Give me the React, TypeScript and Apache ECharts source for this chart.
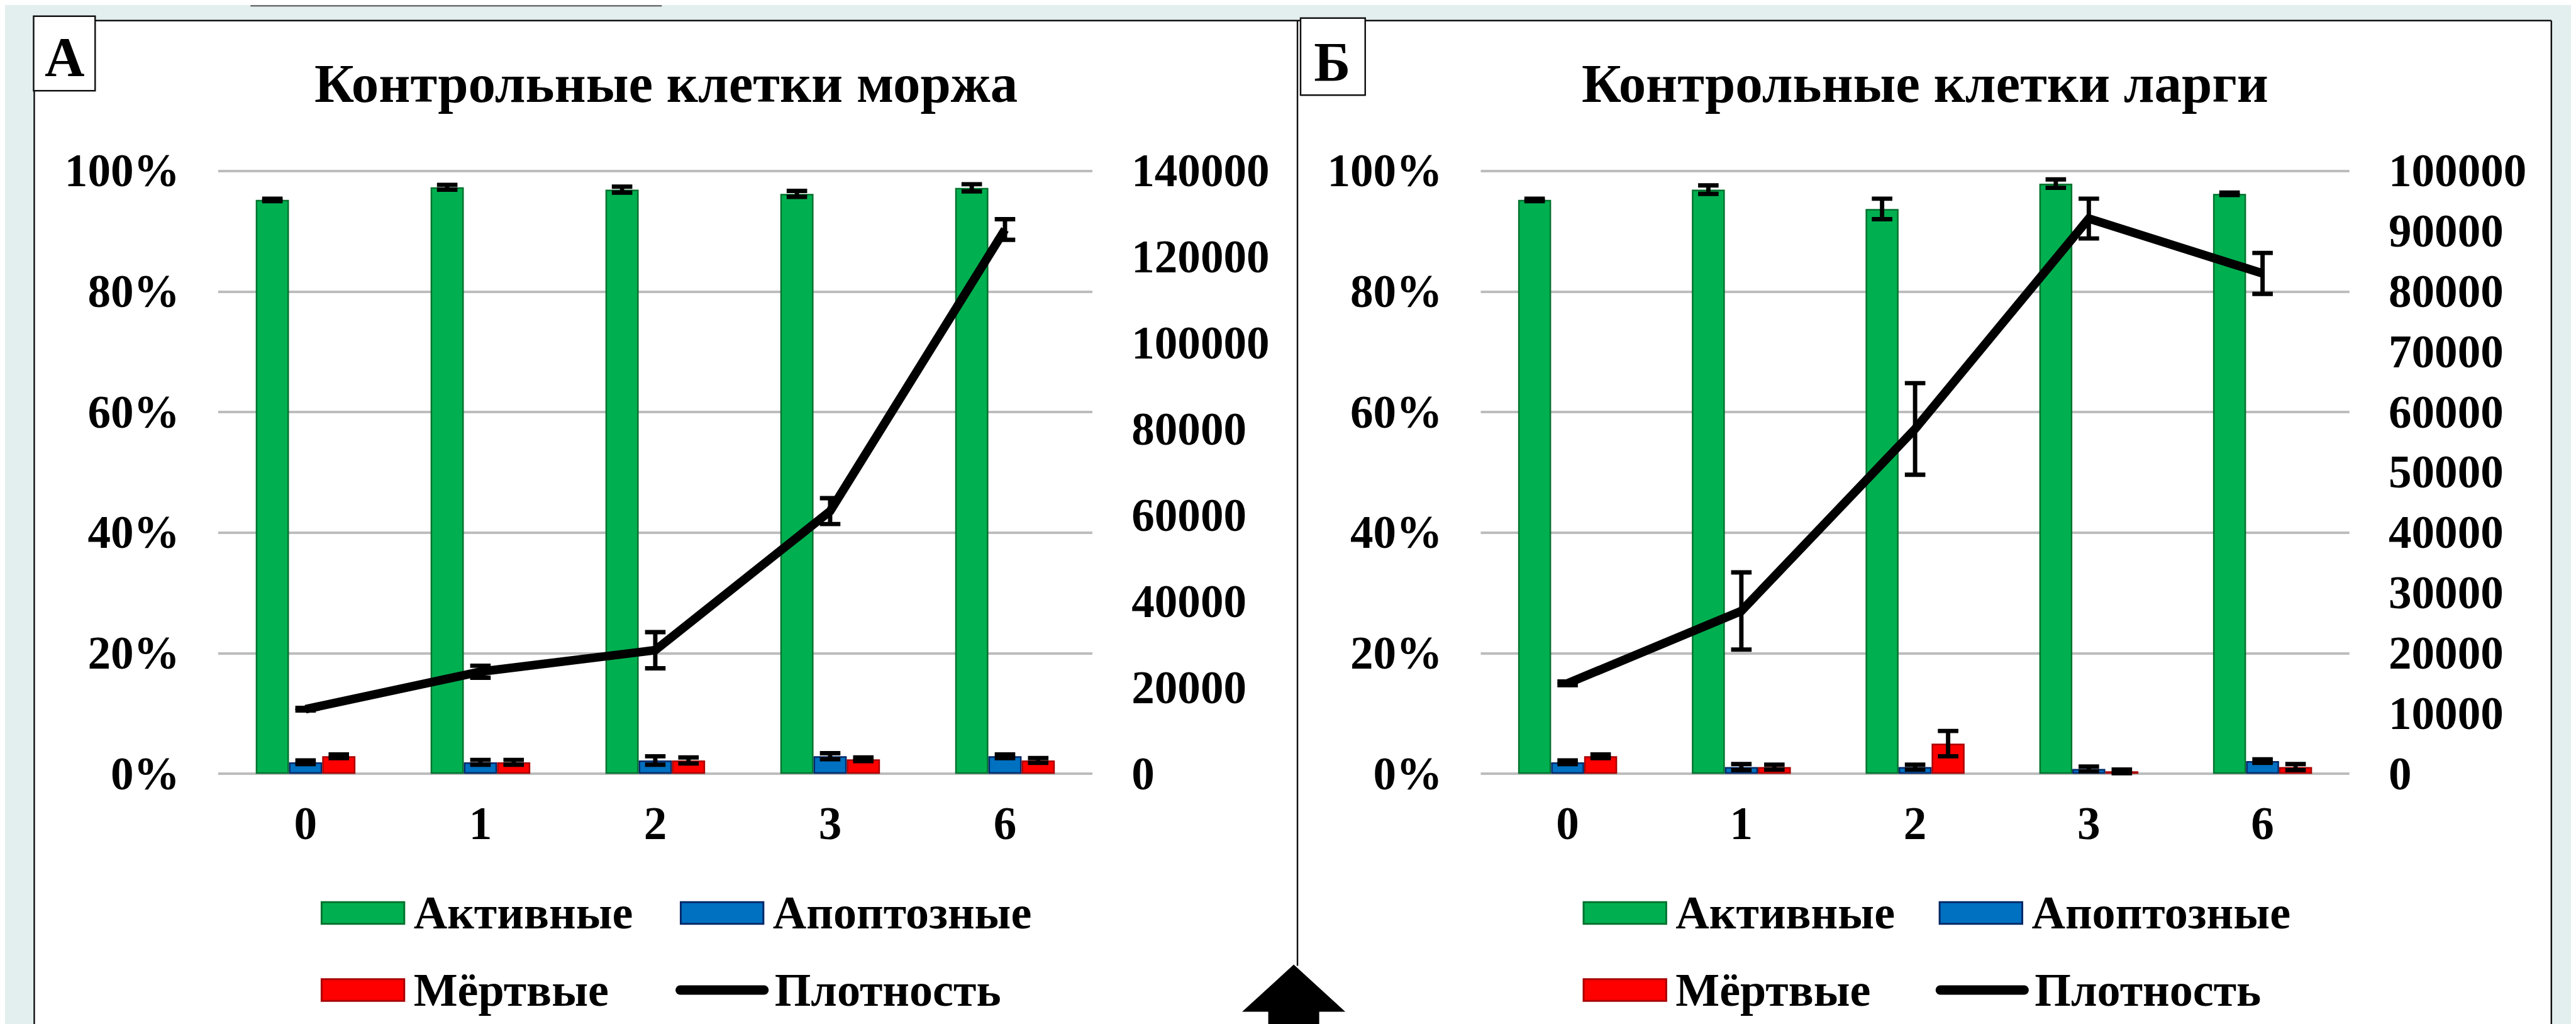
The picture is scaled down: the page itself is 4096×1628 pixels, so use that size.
import React, { useEffect, useRef } from 'react';
import * as echarts from 'echarts';

// ---------- scale (reference 4143x1647 -> window 4096x1628) ----------
const S = 0.988;
const FONT = "'Liberation Serif', 'Times New Roman', Times, serif";

// ---------- texts ----------
const categories = ['0', '1', '2', '3', '6'];
const seriesNames = ['Активные', 'Апоптозные', 'Мёртвые', 'Плотность'];
const panelTitles = ['Контрольные клетки моржа', 'Контрольные клетки ларги'];
const panelLetters = ['А', 'Б'];

// ---------- axes (tick labels come from these) ----------
const percentAxis = { min: 0, max: 100, interval: 20 };
const densityAxisA = { min: 0, max: 140000, interval: 20000 };
const densityAxisB = { min: 0, max: 100000, interval: 10000 };

// ---------- panel А: walrus ----------
const activeA = [95.2, 97.3, 96.9, 96.2, 97.2];
const activeErrA = [0.2, 0.4, 0.5, 0.5, 0.6];
const apoptA = [1.9, 1.9, 2.2, 2.9, 2.9];
const apoptErrA = [0.3, 0.4, 0.7, 0.5, 0.3];
const deadA = [2.9, 1.9, 2.2, 2.4, 2.2];
const deadErrA = [0.3, 0.4, 0.5, 0.3, 0.4];
const densityA = [15000, 23700, 28700, 61000, 126400];
const densityErrA = [300, 1400, 4200, 3000, 2400];

// ---------- panel Б: largha seal ----------
const activeB = [95.2, 96.9, 93.7, 97.9, 96.2];
const activeErrB = [0.2, 0.7, 1.7, 0.7, 0.2];
const apoptB = [1.9, 1.1, 1.1, 0.8, 2.1];
const apoptErrB = [0.3, 0.5, 0.4, 0.4, 0.3];
const deadB = [2.9, 1.1, 5.0, 0.4, 1.1];
const deadErrB = [0.3, 0.4, 2.1, 0.3, 0.5];
const densityB = [15000, 27000, 57200, 92100, 83000];
const densityErrB = [300, 6400, 7600, 3300, 3400];

// ---------- styling / layout (reference px) ----------
const GRIDS = [
  { left: 343, right: 1750 },
  { left: 2375, right: 3773 },
];
const GRID_TOP = 267;
const GRID_BOTTOM = 1237;
const BAR_RATIO = 0.19;
const CAP_W = 33;
const CAP_T = 7;
const STEM_W = 7;
const LINE_W = 14;

const barStyles = [
  { color: '#00b050', borderColor: '#00722e', borderWidth: 2.5 * S },
  { color: '#0070c0', borderColor: '#002868', borderWidth: 2.5 * S },
  { color: '#ff0000', borderColor: '#a80000', borderWidth: 2.5 * S },
];

const LEGEND_POS = [
  [
    { x: 508, cy: 1461 },
    { x: 1086, cy: 1461 },
    { x: 508, cy: 1585 },
    { x: 1079, cy: 1585 },
  ],
  [
    { x: 2539, cy: 1461 },
    { x: 3112, cy: 1461 },
    { x: 2539, cy: 1585 },
    { x: 3107, cy: 1585 },
  ],
];
const TITLE_CX = [1064, 3090];
const TICK_FS = 74;
const LEGEND_FS = 75;
const TITLE_FS = 88;

function errRender(offsetMul: number) {
  return (params: any, api: any) => {
    const idx = api.value(0);
    const val = api.value(1);
    const err = api.value(2);
    const c = api.coord([idx, val]);
    const band = api.size([1, 0])[0];
    const x = c[0] + offsetMul * band * BAR_RATIO;
    const yTop = api.coord([idx, val + err])[1];
    const yBot = api.coord([idx, Math.max(0, val - err)])[1];
    const hw = (CAP_W * S) / 2;
    const st = { stroke: '#000', lineWidth: CAP_T * S };
    return {
      type: 'group',
      children: [
        { type: 'line', shape: { x1: x, y1: yTop, x2: x, y2: yBot }, style: { stroke: '#000', lineWidth: STEM_W * S } },
        { type: 'line', shape: { x1: x - hw, y1: yTop, x2: x + hw, y2: yTop }, style: st },
        { type: 'line', shape: { x1: x - hw, y1: yBot, x2: x + hw, y2: yBot }, style: st },
      ],
    };
  };
}

const tickLabel = {
  fontFamily: FONT,
  fontWeight: 'bold' as const,
  fontSize: TICK_FS * S,
  color: '#000',
};

function buildPanel(p: number, d: any) {
  const g = GRIDS[p];
  const grid = {
    left: g.left * S,
    top: GRID_TOP * S,
    width: (g.right - g.left) * S,
    height: (GRID_BOTTOM - GRID_TOP) * S,
    containLabel: false,
    outerBoundsMode: 'none',
  };
  const xAxis = {
    type: 'category',
    gridIndex: p,
    data: categories,
    axisLine: { show: false },
    axisTick: { show: false },
    axisLabel: { ...tickLabel, margin: 43 * S, lineHeight: TICK_FS * S },
    splitLine: { show: false },
  };
  const yPct = {
    type: 'value',
    gridIndex: p,
    position: 'left',
    min: percentAxis.min,
    max: percentAxis.max,
    interval: percentAxis.interval,
    axisLine: { show: false },
    axisTick: { show: false },
    axisLabel: { ...tickLabel, margin: 62 * S, formatter: '{value}%' },
    splitLine: { show: true, lineStyle: { color: '#bdbdbd', width: 4 * S } },
  };
  const yDen = {
    type: 'value',
    gridIndex: p,
    position: 'right',
    min: d.densAxis.min,
    max: d.densAxis.max,
    interval: d.densAxis.interval,
    axisLine: { show: false },
    axisTick: { show: false },
    axisLabel: { ...tickLabel, margin: 63 * S, formatter: (v: number) => String(v) },
    splitLine: { show: false },
  };
  const yi = 2 * p;
  const bars = [d.active, d.apopt, d.dead].map((vals: number[], k: number) => ({
    type: 'bar',
    name: seriesNames[k],
    xAxisIndex: p,
    yAxisIndex: yi,
    data: vals,
    barWidth: BAR_RATIO * 100 + '%',
    barGap: '0%',
    itemStyle: barStyles[k],
    z: 2,
  }));
  const line = {
    type: 'line',
    name: seriesNames[3],
    xAxisIndex: p,
    yAxisIndex: yi + 1,
    data: d.density,
    symbol: 'none',
    color: '#000',
    lineStyle: { color: '#000', width: LINE_W * S, cap: 'butt', join: 'miter' },
    z: 4,
  };
  const barErrs = [
    [d.active, d.activeErr],
    [d.apopt, d.apoptErr],
    [d.dead, d.deadErr],
  ].map(([vals, errs]: any, k: number) => ({
    type: 'custom',
    name: seriesNames[k] + ' ±',
    xAxisIndex: p,
    yAxisIndex: yi,
    renderItem: errRender(k - 1),
    encode: { x: 0, y: 1 },
    data: vals.map((v: number, i: number) => [i, v, errs[i]]),
    z: 3,
    silent: true,
  }));
  const lineErr = {
    type: 'custom',
    name: seriesNames[3] + ' ±',
    xAxisIndex: p,
    yAxisIndex: yi + 1,
    renderItem: errRender(0),
    encode: { x: 0, y: 1 },
    data: d.density.map((v: number, i: number) => [i, v, d.densityErr[i]]),
    z: 5,
    silent: true,
  };
  const legends = seriesNames.map((nm, k) => {
    const pos = LEGEND_POS[p][k];
    const isLine = k === 3;
    const lg: any = {
      data: [nm],
      left: pos.x * S,
      top: (pos.cy - 40) * S,
      padding: 0,
      selectedMode: false,
      itemWidth: (isLine ? 150 : 133) * S,
      itemHeight: (isLine ? 15 : 35) * S,
      textStyle: {
        fontFamily: FONT,
        fontWeight: 'bold',
        fontSize: LEGEND_FS * S,
        lineHeight: 80 * S,
        color: '#000',
        padding: [0, 0, 0, (isLine ? 4.5 : 10) * S],
      },
    };
    if (isLine) {
      lg.icon = 'path://M7.5,0 H142.5 A7.5,7.5 0 0 1 142.5,15 H7.5 A7.5,7.5 0 0 1 7.5,0 Z';
      lg.itemStyle = { color: '#000', borderWidth: 0 };
      lg.lineStyle = { width: 0 };
    } else {
      lg.icon = 'rect';
      lg.itemStyle = {
        color: barStyles[k].color,
        borderColor: barStyles[k].borderColor,
        borderWidth: 3 * S,
      };
    }
    return lg;
  });
  const title = {
    text: panelTitles[p],
    left: TITLE_CX[p] * S,
    top: 82 * S,
    textAlign: 'center',
    padding: 0,
    textStyle: {
      fontFamily: FONT,
      fontWeight: 'bold',
      fontSize: TITLE_FS * S,
      lineHeight: TITLE_FS * S,
      color: '#000',
    },
  };
  return {
    grid,
    xAxis,
    yAxes: [yPct, yDen],
    series: [...bars, line, ...barErrs, lineErr],
    legends,
    title,
  };
}

function buildGraphic() {
  const teal = '#e3efef';
  const r = (x: number, y: number, w: number, h: number, style: any) => ({
    type: 'rect',
    shape: { x: x * S, y: y * S, width: w * S, height: h * S },
    style,
    silent: true,
  });
  const ln = (x1: number, y1: number, x2: number, y2: number, w: number, c = '#111') => ({
    type: 'line',
    shape: { x1: x1 * S, y1: y1 * S, x2: x2 * S, y2: y2 * S },
    style: { stroke: c, lineWidth: w * S },
    silent: true,
  });
  const letter = (t: string, cx: number, cy: number) => ({
    type: 'text',
    x: cx * S,
    y: cy * S,
    style: {
      text: t,
      fontFamily: FONT,
      fontWeight: 'bold',
      fontSize: 89 * S,
      fill: '#000',
      align: 'center',
      verticalAlign: 'middle',
    },
    silent: true,
  });
  const arrowPts = [
    [2074, 1544],
    [2157, 1620],
    [2115, 1620],
    [2115, 1660],
    [2033, 1660],
    [2033, 1620],
    [1991, 1620],
  ].map(([x, y]) => [x * S, y * S]);
  return [
    r(0, 0, 4143, 25, { fill: teal }),
    r(0, 0, 47, 1660, { fill: teal }),
    r(4098, 0, 60, 1660, { fill: teal }),
    ln(395, 1, 1057, 1, 3, '#6e6e6e'),
    ln(47, 25, 4098, 25, 2.5),
    ln(47, 25, 47, 1660, 2.5),
    ln(4098, 25, 4098, 1660, 2.5),
    ln(2080, 25, 2080, 1546, 2.5),
    { type: 'polygon', shape: { points: arrowPts }, style: { fill: '#000' }, silent: true },
    r(46, 18, 99, 120, { fill: '#fff', stroke: '#111', lineWidth: 2.5 * S }),
    r(2085, 21, 104, 124, { fill: '#fff', stroke: '#111', lineWidth: 2.5 * S }),
    letter(panelLetters[0], 96, 83),
    letter(panelLetters[1], 2136, 92),
  ];
}

export default function App() {
  const ref = useRef<HTMLDivElement>(null);
  useEffect(() => {
    if (!ref.current) return;
    const chart = echarts.init(ref.current, undefined, { renderer: 'svg' });
    const pA = buildPanel(0, {
      active: activeA, activeErr: activeErrA, apopt: apoptA, apoptErr: apoptErrA,
      dead: deadA, deadErr: deadErrA, density: densityA, densityErr: densityErrA, densAxis: densityAxisA,
    });
    const pB = buildPanel(1, {
      active: activeB, activeErr: activeErrB, apopt: apoptB, apoptErr: apoptErrB,
      dead: deadB, deadErr: deadErrB, density: densityB, densityErr: densityErrB, densAxis: densityAxisB,
    });
    chart.setOption({
      animation: false,
      backgroundColor: '#ffffff',
      title: [pA.title, pB.title],
      grid: [pA.grid, pB.grid],
      xAxis: [pA.xAxis, pB.xAxis],
      yAxis: [...pA.yAxes, ...pB.yAxes],
      legend: [...pA.legends, ...pB.legends],
      series: [...pA.series, ...pB.series],
      graphic: buildGraphic(),
      tooltip: { show: false },
    });
    return () => chart.dispose();
  }, []);
  return (
    <div
      ref={ref}
      style={{ position: 'fixed', left: 0, top: 0, width: 4096, height: 1628 }}
    />
  );
}
